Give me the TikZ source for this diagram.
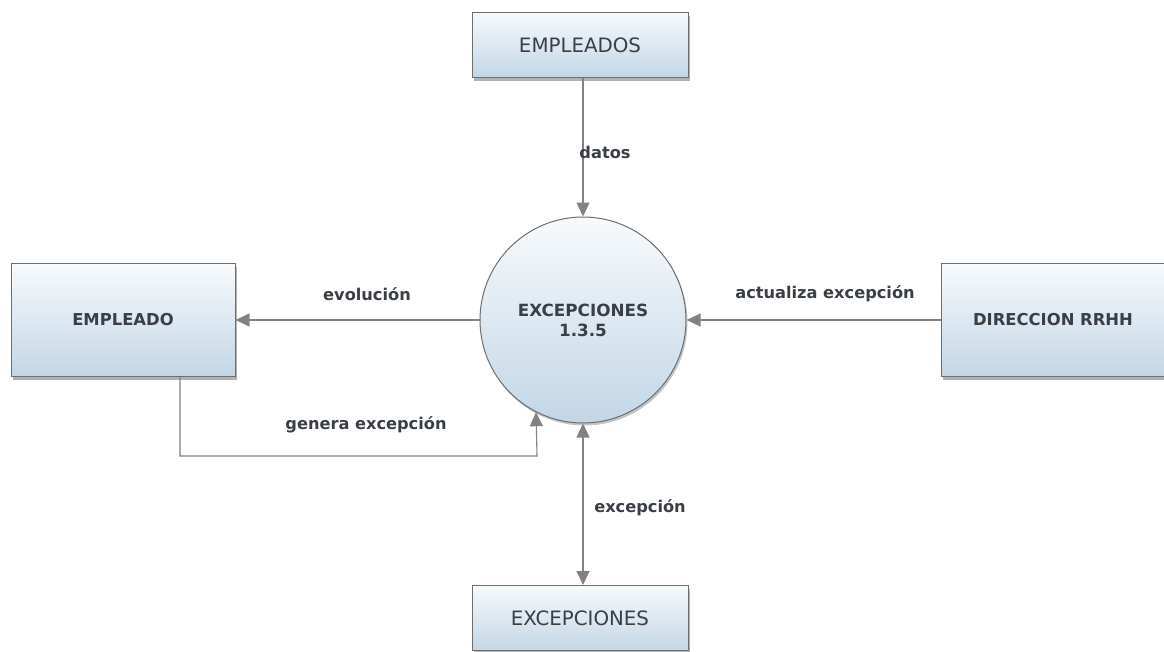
\documentclass[tikz,border=0pt]{standalone}
\usepackage{fontspec}
\setmainfont{DejaVu Sans}
\usetikzlibrary{arrows.meta,shadows,calc}
\definecolor{edgegray}{HTML}{828282}
\definecolor{framegray}{HTML}{6E6E6E}
\definecolor{topfill}{HTML}{F7FAFC}
\definecolor{botfill}{HTML}{C3D6E6}
\definecolor{inkgray}{HTML}{3A3F45}
\tikzset{
  store/.style={draw=framegray, line width=1pt, rectangle, top color=topfill, bottom color=botfill,
    minimum width=216pt, minimum height=65pt, text=inkgray, font=\fontsize{19.8}{23}\selectfont,
    drop shadow={shadow xshift=2pt, shadow yshift=-3pt, opacity=0.6}},
  entity/.style={draw=framegray, line width=1pt, rectangle, top color=topfill, bottom color=botfill,
    minimum width=224pt, minimum height=113pt, text=inkgray, font=\bfseries\fontsize{16.4}{19}\selectfont,
    drop shadow={shadow xshift=2pt, shadow yshift=-3pt, opacity=0.6}},
  process/.style={draw=framegray, line width=1pt, circle, top color=topfill, bottom color=botfill,
    minimum size=206pt, inner sep=0pt, align=center, text=inkgray, font=\bfseries\fontsize{16.8}{20}\selectfont,
    drop shadow={shadow xshift=1.5pt, shadow yshift=-2.5pt, opacity=0.45}},
  flow/.style={draw=edgegray, line width=1.1pt, -{Triangle[length=14pt,width=13pt]}},
  biflow/.style={draw=edgegray, line width=1.1pt, {Triangle[length=14pt,width=13pt]}-{Triangle[length=14pt,width=13pt]}},
  flowlabel/.style={text=inkgray, font=\bfseries\fontsize{16.2}{19}\selectfont}
}
\begin{document}
\begin{tikzpicture}[x=1pt,y=-1pt]
  \useasboundingbox (0,0) rectangle (1164,651);
  \fill[white] (0,0) rectangle (1164,651);

  % external entities, data stores and the process
  \node[store]   (empleados)   at (580,45)   {EMPLEADOS};
  \node[store]   (almacen)     at (580,618)  {EXCEPCIONES};
  \node[entity]  (empleado)    at (123,320)  {EMPLEADO};
  \node[entity]  (direccion)   at (1053,320) {DIRECCION RRHH};
  \node[process] (proc)        at (583,320)  {EXCEPCIONES\\1.3.5};

  % helper points for the elbow connector
  \coordinate (g0) at (180,0);
  \coordinate (g1) at (180,456);
  \coordinate (g2) at (537,456);

  % data flows
  \draw[flow] (empleados.south -| proc.north) -- (proc.north);
  \draw[flow] (proc.west) -- (empleado.east);
  \draw[flow] (direccion.west) -- (proc.east);
  \draw[flow] (empleado.south -| g0) -- (g1) -- (g2) -- (proc.243.4);
  \draw[biflow] (proc.south) -- (almacen.north -| proc.south);

  % flow labels
  \node[flowlabel] (l1) at (605,152) {datos};
  \node[flowlabel] (l2) at (367,294) {evolución};
  \node[flowlabel] (l3) at (825,294) {actualiza excepción};
  \node[flowlabel] (l4) at (366,425) {genera excepción};
  \node[flowlabel] (l5) at (640,508) {excepción};
\end{tikzpicture}
\end{document}
